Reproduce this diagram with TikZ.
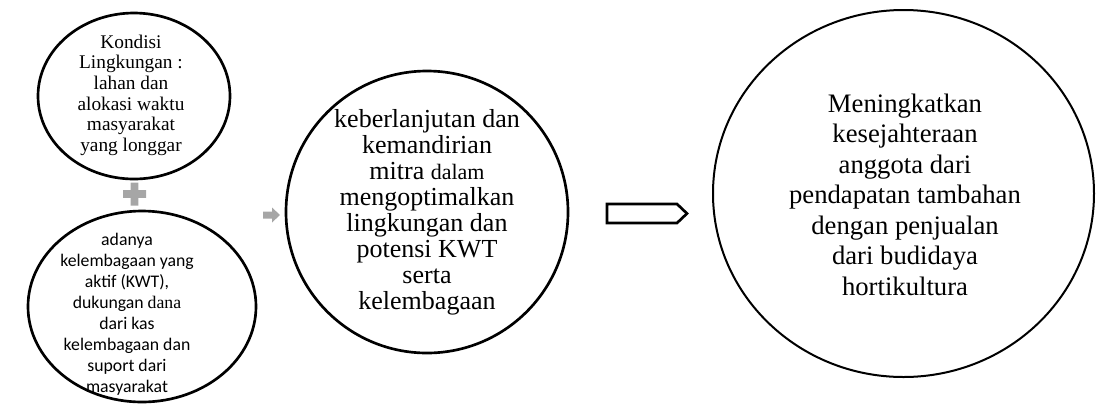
\documentclass[tikz,border=0pt]{standalone}
\usepackage{fontspec}
\setmainfont{Liberation Serif}
\newfontfamily\calibrifont{Carlito}
\usetikzlibrary{shapes.geometric}
\definecolor{symgray}{RGB}{166,166,166}
\tikzset{
  bubble/.style={ellipse, draw=black, line width=2pt, inner sep=0pt, outer sep=0pt},
  textblock/.style={anchor=base, inner sep=0pt, outer sep=0pt},
}
\begin{document}
\begin{tikzpicture}[x=0.75pt, y=-0.75pt]
\useasboundingbox (0,0) rectangle (1096,405);

% left group: two inputs joined by a plus
\node[bubble, minimum width=144pt, minimum height=124.5pt] (kondisi) at (134,96) {};
\node[textblock] (kondisitext) at (131,48)
  {\fontsize{14.5pt}{15.5pt}\selectfont
   \begin{tabular}[t]{@{}c@{}}Kondisi\\Lingkungan :\\lahan dan\\alokasi waktu\\masyarakat\\yang longgar\end{tabular}};

\coordinate (plus) at (134.5,194);
\fill[symgray, shift={(plus)}]
  (-3.8,-11.5) -- (3.8,-11.5) -- (3.8,-3.8) -- (11.5,-3.8) -- (11.5,3.8) -- (3.8,3.8)
  -- (3.8,11.5) -- (-3.8,11.5) -- (-3.8,3.8) -- (-11.5,3.8) -- (-11.5,-3.8) -- (-3.8,-3.8) -- cycle;

\node[bubble, minimum width=171pt, minimum height=143.25pt] (lembaga) at (142,306.5) {};
\node[textblock] (lembagatext) at (127,245)
  {\calibrifont\fontsize{13.3pt}{15.8pt}\selectfont
   \begin{tabular}[t]{@{}c@{}}adanya\\kelembagaan yang\\aktif (KWT),\\dukungan {\rmfamily dana}\\dari kas\\kelembagaan dan\\suport dari\\masyarakat\end{tabular}};

% small grey arrow towards the result of the sum
\coordinate (sumarrow) at (263,215);
\fill[symgray, shift={(sumarrow)}]
  (0,-3.5) -- (9,-3.5) -- (9,-7.5) -- (17,0) -- (9,7.5) -- (9,3.5) -- (0,3.5) -- cycle;

% middle circle
\node[bubble, minimum width=211.5pt, minimum height=211.5pt] (mitra) at (427,212) {};
\node[textblock] (mitratext) at (427,127)
  {\fontsize{19.5pt}{19.6pt}\selectfont
   \begin{tabular}[t]{@{}c@{}}keberlanjutan dan\\kemandirian\\mitra {\fontsize{16.5pt}{19.6pt}\selectfont dalam}\\mengoptimalkan\\lingkungan dan\\potensi KWT\\serta\\kelembagaan\end{tabular}};

% outlined pentagon arrow
\coordinate (bigarrow) at (607,213.5);
\draw[line width=2pt, line join=miter, shift={(bigarrow)}]
  (0,-9.5) -- (70,-9.5) -- (80,0) -- (70,9.5) -- (0,9.5) -- cycle;

% result circle
\node[bubble, line width=1.5pt, minimum width=285.75pt, minimum height=275.25pt] (hasil) at (903.5,193.5) {};
\node[textblock] (hasiltext) at (905,112)
  {\fontsize{20pt}{22.9pt}\selectfont
   \begin{tabular}[t]{@{}c@{}}Meningkatkan\\kesejahteraan\\anggota dari\\pendapatan tambahan\\dengan penjualan\\dari budidaya\\hortikultura\end{tabular}};
\end{tikzpicture}
\end{document}
